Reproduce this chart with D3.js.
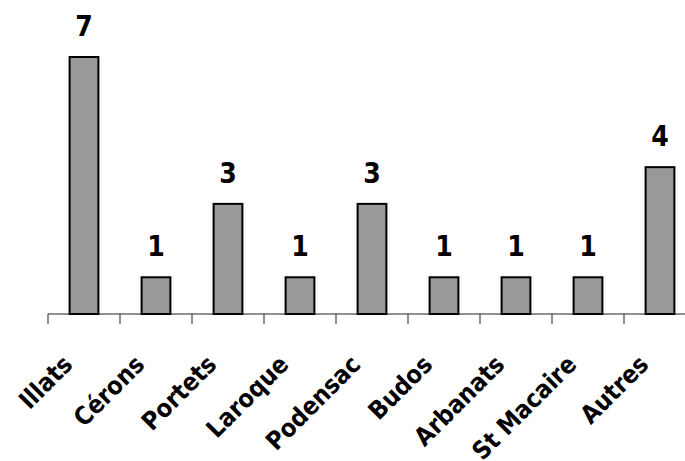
<!DOCTYPE html>
<html lang="fr">
<head>
  <meta charset="UTF-8">
  <title>Répartition par commune</title>
  <script src="https://d3js.org/d3.v7.min.js"></script>
  <style>
    body { margin: 0; background: #fff; }
    .val { font-family: "DejaVu Sans Condensed", "DejaVu Sans", sans-serif; font-weight: bold; font-size: 28px; }
    .cat { font-family: "DejaVu Sans Condensed", "DejaVu Sans", sans-serif; font-weight: bold; font-size: 25px; }
  </style>
</head>
<body>
  <svg width="685" height="461"></svg>
  <script>
    const communes = ["Illats", "Cérons", "Portets", "Laroque", "Podensac", "Budos", "Arbanats", "St Macaire", "Autres"];
    const nombres = [7, 1, 3, 1, 3, 1, 1, 1, 4];

    const svg = d3.select("svg");
    const x = d3.scaleBand().domain(communes).range([48, 696]).padding(0);
    const y = d3.scaleLinear().domain([0, 7]).range([314, 57]);
    const barW = x.bandwidth() * 0.4;

    // axis line and ticks between categories
    svg.append("line")
      .attr("x1", x.range()[0]).attr("x2", x.range()[1])
      .attr("y1", y(0)).attr("y2", y(0))
      .attr("stroke", "#222").attr("stroke-width", 1);

    const bounds = communes.map(c => x(c)).concat([x.range()[1]]);
    svg.selectAll(".tick").data(bounds).enter().append("line")
      .attr("x1", d => d).attr("x2", d => d)
      .attr("y1", y(0)).attr("y2", y(0) + 10)
      .attr("stroke", "#222").attr("stroke-width", 1);

    // bars
    svg.selectAll("rect").data(communes).enter().append("rect")
      .attr("x", (d) => x(d) + x.bandwidth() / 2 - barW / 2)
      .attr("y", (d, i) => y(nombres[i]))
      .attr("width", barW)
      .attr("height", (d, i) => y(0) - y(nombres[i]))
      .attr("fill", "#999999")
      .attr("stroke", "#000")
      .attr("stroke-width", 2);

    // value labels
    svg.selectAll(".val").data(communes).enter().append("text")
      .attr("class", "val")
      .attr("x", d => x(d) + x.bandwidth() / 2)
      .attr("y", (d, i) => y(nombres[i]) - 21)
      .attr("text-anchor", "middle")
      .text((d, i) => nombres[i]);

    // category labels
    svg.selectAll(".cat").data(communes).enter().append("text")
      .attr("class", "cat")
      .attr("text-anchor", "end")
      .attr("transform", d => `translate(${x(d) + x.bandwidth() / 2 - 10},366) rotate(-45)`)
      .text(d => d);
  </script>
</body>
</html>
